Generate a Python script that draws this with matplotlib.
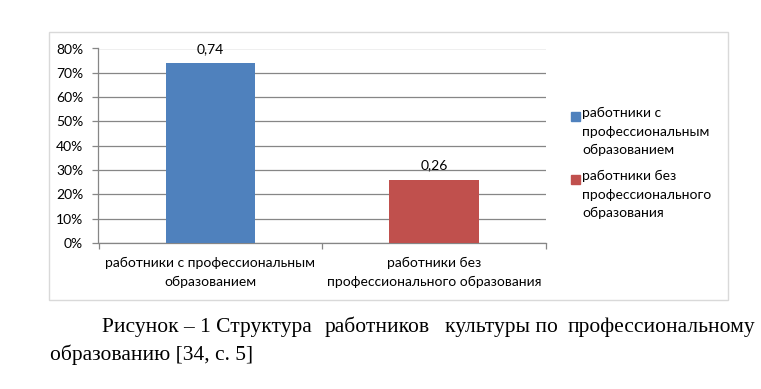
import matplotlib
matplotlib.use("Agg")
import matplotlib.pyplot as plt
from matplotlib.patches import Rectangle
from matplotlib.ticker import PercentFormatter, FixedLocator

categories = ["работники с профессиональным\nобразованием",
              "работники без\nпрофессионального образования"]
legend_labels = ["работники с\nпрофессиональным\nобразованием",
                 "работники без\nпрофессионального\nобразования"]
values = [0.74, 0.26]
value_labels = ["0,74", "0,26"]
colors = ["#4F81BD", "#C0504D"]
yticks = [0, 0.1, 0.2, 0.3, 0.4, 0.5, 0.6, 0.7, 0.8]
caption_line1 = ["Рисунок – 1 Структура", "работников", "культуры по", "профессиональному"]
caption_line2 = "образованию [34, с. 5]"

W, H = 761, 389
fig = plt.figure(figsize=(W / 100, H / 100), dpi=100)
font = "Lato"
fs = 10
grid_c = "#868686"

# outer chart border
fig.patches.append(Rectangle((49 / W, 1 - 300 / H), (728 - 49) / W, (300 - 32) / H,
                             transform=fig.transFigure, fill=False,
                             edgecolor="#D9D9D9", linewidth=1.0))

ax = fig.add_axes([98.5 / W, 1 - 243 / H, (546 - 98.5) / W, (243 - 48.5) / H])
x = list(range(len(categories)))
bars = ax.bar(x, values, width=0.4, color=colors, zorder=3)
ax.set_xlim(-0.5, 1.5)
ax.set_ylim(0, 0.8)
ax.yaxis.set_major_locator(FixedLocator(yticks))
ax.yaxis.set_major_formatter(PercentFormatter(1.0, decimals=0))
ax.grid(axis="y", color=grid_c, linewidth=0.9, zorder=0)
ax.set_axisbelow(True)
for s in ["top", "right"]:
    ax.spines[s].set_visible(False)
for s in ["left", "bottom"]:
    ax.spines[s].set_color(grid_c)
    ax.spines[s].set_linewidth(0.9)

ax.set_xticks(x)
ax.set_xticklabels(categories, fontfamily=font, fontsize=fs, linespacing=1.65)
ax.set_xticks([-0.5, 0.5, 1.5], minor=True)
ax.tick_params(axis="x", which="major", length=0, pad=10)
ax.tick_params(axis="x", which="minor", length=4, color=grid_c, width=0.9)
ax.tick_params(axis="y", length=4, color=grid_c, width=0.9, pad=7)
for lbl in ax.get_yticklabels():
    lbl.set_fontfamily(font)
    lbl.set_fontsize(fs)

for xi, v, t in zip(x, values, value_labels):
    ax.annotate(t, (xi, v), xytext=(0, 6), textcoords="offset points",
                ha="center", va="bottom", fontfamily=font, fontsize=fs)

# legend (drawn manually so the marker sits at the first line)
leg_tops = [112, 175]
for top, c, lab in zip(leg_tops, colors, legend_labels):
    fig.patches.append(Rectangle((571 / W, 1 - (top + 9) / H), 9 / W, 9 / H,
                                 transform=fig.transFigure, color=c))
    fig.text(582 / W, 1 - (top - 5) / H, lab, ha="left", va="top",
             fontfamily=font, fontsize=fs, linespacing=1.65)

# caption
cap_font = "Liberation Serif"
cap_fs = 15.5
starts = [102, 325, 445, 568]
for s, w in zip(starts, caption_line1):
    fig.text(s / W, 1 - 332 / H, w, ha="left", va="baseline",
             fontfamily=cap_font, fontsize=cap_fs)
fig.text(50 / W, 1 - 360 / H, caption_line2, ha="left", va="baseline",
         fontfamily=cap_font, fontsize=cap_fs)

fig.savefig("out.png", dpi=100)
